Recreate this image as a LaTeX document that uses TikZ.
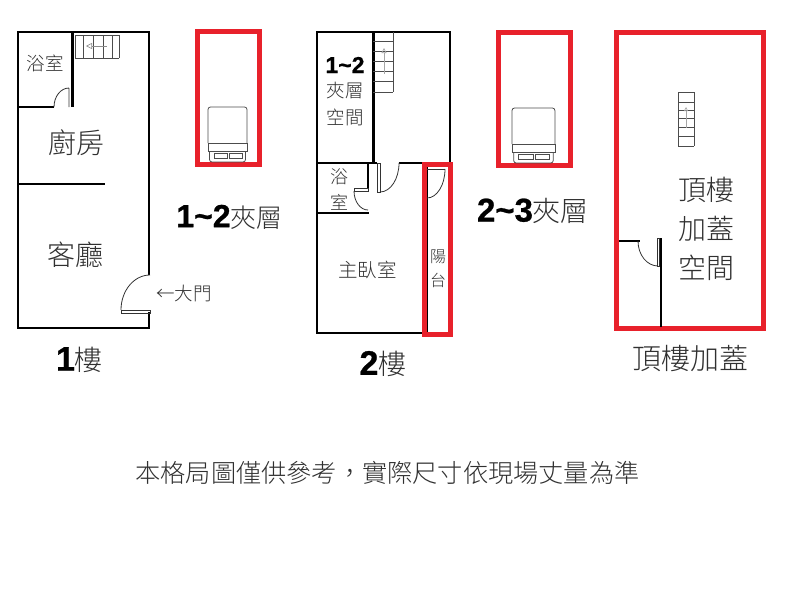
\documentclass[tikz,border=0pt]{standalone}
\usepackage{fontspec}
\setmainfont{Noto Sans CJK TC Light}
\newfontfamily\digitfont{Liberation Sans}[UprightFont={* Bold},FakeBold=0.8]
\usetikzlibrary{arrows.meta}

\definecolor{markred}{HTML}{E8212B}
\definecolor{inkgray}{HTML}{303030}

\def\digit#1#2{{\digitfont\fontsize{#1}{#1}\selectfont\color{black}#2}}

\tikzset{
    wall/.style={line width=2.4pt, black},
    thinwall/.style={line width=1.6pt, black},
    door/.style={line width=0.8pt, black!80},
    tread/.style={line width=0.6pt, black!70},
    redbox/.style={line width=5pt, draw=markred},
    label/.style={inner sep=0pt, text=inkgray, font=\fontsize{#1}{#1}\selectfont},
    label/.default=18,
    bedicon/.pic={
        \draw[line width=0.8pt, black!70, rounded corners=2.5pt] (0,36) -- (0,0) -- (39,0) -- (39,36);
        \draw[line width=0.8pt, black!70] (0,36) rectangle (39,44);
        \draw[line width=0.8pt, black!70, rounded corners=2.5pt] (1.5,44) -- (1.5,55) -- (37.5,55) -- (37.5,44);
        \draw[line width=0.7pt, black!70] (6,46) rectangle (19,51) (21,46) rectangle (34,51);
    }
}

\begin{document}
\begin{tikzpicture}[
    x=1pt,
    y=-1pt,
    >=Latex,
    line cap=butt,
    line join=miter
]

\useasboundingbox (0,0) rectangle (800,600);

% 1st floor
\draw[wall] (149,275) -- (149,32) -- (18,32) -- (18,328) -- (149,328) -- (149,312);
\draw[wall] (72.5,32) -- (72.5,107);
\draw[wall] (18,107) -- (54,107);
\draw[wall] (18,184) -- (105,184);
\draw[door] (69,107) -- (69,88) (54,107) arc[start angle=180, end angle=270, x radius=15, y radius=19];
\draw[door] (121,310) rectangle (150,313);
\draw[door] (121,310) arc[start angle=180, end angle=270, x radius=29, y radius=35];
\foreach \stepx in {75,83,93,103,112,119}
    \draw[tread] (\stepx,35) -- (\stepx,58);
\draw[tread] (75,35) -- (119,35) (75,58) -- (119,58);
\draw[black!45, line width=0.6pt, -{Triangle[open, length=6pt, width=6pt]}] (107,46) -- (86,46);

% 2nd floor
\draw[wall] (450,163) -- (450,32) -- (317,32) -- (317,333) -- (424,333);
\draw[wall] (373.5,32) -- (373.5,163);
\draw[wall] (317,163) -- (377,163) (399,163) -- (424,163);
\draw[wall] (368,163) -- (368,188);
\draw[wall] (317,213) -- (369,213);
\draw[thinwall] (427,163) -- (427,333);
\draw[door] (377,163) rectangle (380,192);
\draw[door] (380,192) arc[start angle=90, end angle=0, x radius=19, y radius=29];
\draw[door] (354,188) rectangle (368,191);
\draw[door] (354,191) arc[start angle=180, end angle=90, x radius=14, y radius=19];
\draw[door] (427,169) -- (445,169);
\draw[door] (445,169) arc[start angle=0, end angle=90, x radius=18, y radius=29];
\foreach \stepy in {41,51,61,71,81,92}
    \draw[tread] (373,\stepy) -- (393,\stepy);
\draw[tread] (393,32) -- (393,92);
\draw[black!35, line width=0.6pt, -{Triangle[open, length=5pt, width=5pt]}] (384,74) -- (384,48);

% red marks
\draw[redbox] (197.5,31.5) rectangle (259.5,164.5);
\draw[redbox] (424.5,164.5) rectangle (450.5,334.5);
\draw[redbox] (498.5,32.5) rectangle (570.5,165.5);
\draw[redbox] (616.5,32.5) rectangle (763.5,328.5);

% beds
\pic at (208,107) {bedicon};
\pic[xscale=1.1] at (512,108) {bedicon};

% roof floor
\draw[wall] (619,241) -- (640,241);
\draw[thinwall] (661,238) -- (661,327);
\draw[door] (657,238) rectangle (659.5,266);
\draw[door] (638,241) arc[start angle=180, end angle=90, x radius=20, y radius=25];
\foreach \stepy in {92,102,110,118,127,136,146}
    \draw[tread] (678,\stepy) -- (694,\stepy);
\draw[tread] (678,92) -- (678,146) (694,92) -- (694,146);
\draw[black!35, line width=0.6pt, -{Triangle[open, length=4pt, width=4pt]}] (686,128) -- (686,107);

% texts
\node[label=18.5] (bath1) at (45.5,63) {浴室};
\node[label=28] (kitchen) at (76,143) {廚房};
\node[label=28] (living) at (75,255) {客廳};
\node[label=18.5, anchor=west] (entry) at (156,293) {←大門};
\node[label=28] (floor1) at (79.5,360) {\digit{34}{1}樓};
\node[label=26] (mezz1) at (229.5,217) {\digit{32}{1\textasciitilde2}夾層};

\node[label=19] (mezztitle) at (345,65) {\digit{23}{1\textasciitilde2}};
\node[label=18.5] (mezzline) at (345,91) {夾層};
\node[label=18.5] (mezzspace) at (345,117) {空間};
\node[label=18] (bath2a) at (339,177) {浴};
\node[label=18] (bath2b) at (339,202) {室};
\node[label=19.5] (master) at (367.5,270) {主臥室};
\node[label=16] (balcony1) at (438,257) {陽};
\node[label=16] (balcony2) at (438,280) {台};
\node[label=28] (floor2) at (383,364) {\digit{34}{2}樓};
\node[label=28] (mezz2) at (533,211) {\digit{33}{2\textasciitilde3}夾層};

\node[label=28] (roofa) at (706,190) {頂樓};
\node[label=28] (roofb) at (706,229) {加蓋};
\node[label=28] (roofc) at (706,268) {空間};
\node[label=29] (roof) at (690,359) {頂樓加蓋};

\node[label=25.2] (note) at (387.5,473) {本格局圖僅供參考^^^^ff0c實際尺寸依現場丈量為準};

\end{tikzpicture}
\end{document}
